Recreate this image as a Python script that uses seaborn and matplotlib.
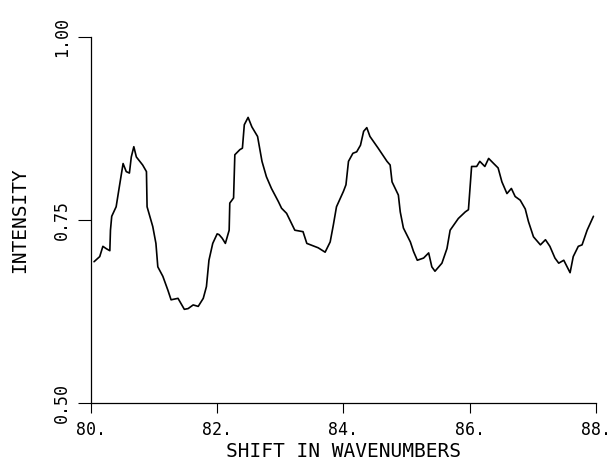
import numpy as np
import pandas as pd
import matplotlib
matplotlib.use("Agg")
import matplotlib.pyplot as plt
import seaborn as sns


# spectrum
wavenumber = [
    80.05, 80.14, 80.19, 80.24, 80.30, 80.31, 80.33, 80.40, 80.45, 80.51,
    80.56, 80.61, 80.64, 80.68, 80.72, 80.82, 80.88, 80.89, 80.98, 81.03,
    81.06, 81.14, 81.22, 81.27, 81.38, 81.48, 81.54, 81.62, 81.70, 81.78,
    81.83, 81.87, 81.93, 82.00, 82.03, 82.08, 82.13, 82.19, 82.20, 82.26,
    82.28, 82.36, 82.40, 82.43, 82.49, 82.55, 82.64, 82.71, 82.78, 82.86,
    82.97, 83.02, 83.10, 83.23, 83.36, 83.42, 83.60, 83.71, 83.79, 83.84,
    83.89, 84.00, 84.04, 84.08, 84.15, 84.21, 84.27, 84.32, 84.37, 84.42,
    84.55, 84.69, 84.74, 84.77, 84.87, 84.90, 84.95, 85.06, 85.11, 85.17,
    85.27, 85.35, 85.40, 85.45, 85.56, 85.64, 85.69, 85.82, 85.93, 85.98,
    86.03, 86.11, 86.16, 86.24, 86.30, 86.38, 86.45, 86.51, 86.59, 86.66,
    86.72, 86.80, 86.88, 86.93, 87.01, 87.12, 87.20, 87.27, 87.35, 87.41,
    87.49, 87.59, 87.64, 87.72, 87.78, 87.86, 87.96,
]
intensity = [
    0.693, 0.700, 0.714, 0.711, 0.708, 0.736, 0.755, 0.768, 0.795, 0.827,
    0.816, 0.814, 0.836, 0.850, 0.836, 0.825, 0.816, 0.768, 0.741, 0.718,
    0.686, 0.673, 0.654, 0.641, 0.643, 0.628, 0.629, 0.634, 0.632, 0.643,
    0.659, 0.695, 0.718, 0.731, 0.730, 0.725, 0.718, 0.736, 0.773, 0.780,
    0.839, 0.846, 0.848, 0.880, 0.890, 0.877, 0.864, 0.830, 0.809, 0.793,
    0.775, 0.766, 0.759, 0.736, 0.734, 0.718, 0.712, 0.706, 0.720, 0.743,
    0.768, 0.789, 0.798, 0.830, 0.841, 0.843, 0.852, 0.871, 0.876, 0.864,
    0.848, 0.830, 0.825, 0.802, 0.784, 0.761, 0.739, 0.720, 0.707, 0.695,
    0.698, 0.705, 0.686, 0.680, 0.691, 0.711, 0.736, 0.752, 0.761, 0.764,
    0.823, 0.823, 0.830, 0.823, 0.834, 0.827, 0.821, 0.802, 0.786, 0.793,
    0.782, 0.777, 0.765, 0.748, 0.727, 0.716, 0.723, 0.714, 0.698, 0.691,
    0.695, 0.678, 0.700, 0.714, 0.716, 0.736, 0.755,
]

x_ticks = [80, 82, 84, 86, 88]
x_tick_labels = ["80.", "82.", "84.", "86.", "88."]
y_ticks = [0.50, 0.75, 1.00]
y_tick_labels = ["0.50", "0.75", "1.00"]

sns.set_style("ticks")
plt.rcParams["font.family"] = ["DejaVu Sans Mono", "DejaVu Sans"]
plt.rcParams["text.color"] = "black"
plt.rcParams["axes.labelcolor"] = "black"

df = pd.DataFrame({"shift": wavenumber, "intensity": intensity})

fig = plt.figure(figsize=(6.1, 4.66), dpi=100)
ax = fig.add_axes([0.149, 0.135, 0.828, 0.786])

sns.lineplot(data=df, x="shift", y="intensity", ax=ax, color="black",
             linewidth=1.2, estimator=None, sort=False)

ax.set_xlim(80, 88)
ax.set_ylim(0.5, 1.0)
ax.set_xticks(x_ticks)
ax.set_xticklabels(x_tick_labels, fontsize=12)
ax.set_yticks(y_ticks)
ax.set_yticklabels(y_tick_labels, fontsize=12, rotation=90, va="center")

ax.tick_params(axis="x", direction="out", length=7.2, width=0.8, pad=6, colors="black")
ax.tick_params(axis="y", direction="out", length=9.5, width=0.8, pad=5, colors="black")

for side in ["top", "right"]:
    ax.spines[side].set_visible(False)
for side in ["left", "bottom"]:
    ax.spines[side].set_linewidth(0.9)
    ax.spines[side].set_color("black")

ax.set_xlabel("SHIFT IN WAVENUMBERS", fontsize=14, labelpad=2)
ax.set_ylabel("INTENSITY", fontsize=14, labelpad=17)

fig.savefig("out.png", dpi=100)
